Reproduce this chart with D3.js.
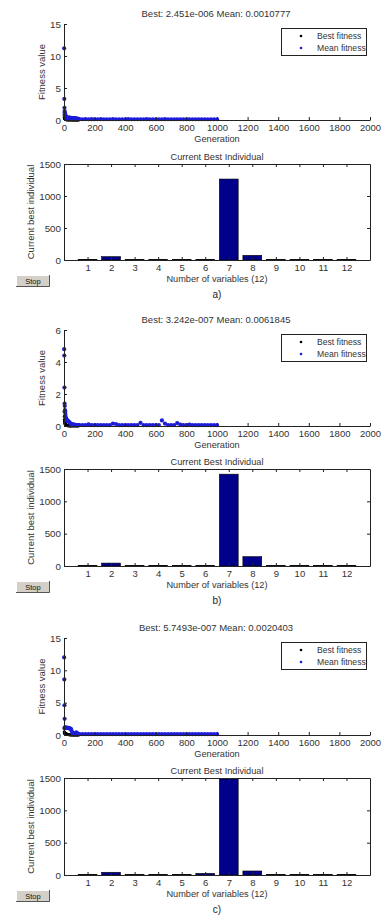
<!DOCTYPE html>
<html>
<head>
<meta charset="utf-8">
<script src="https://cdn.jsdelivr.net/npm/d3@7/dist/d3.min.js"></script>
<style>
  html, body { margin: 0; padding: 0; background: #fff; }
  svg { display: block; font-family: "Liberation Sans", Arial, sans-serif; }
</style>
</head>
<body>
<svg width="383" height="918"></svg>
<script>
// ---- data ----
const panelLabels = ['a)', 'b)', 'c)'];
const titles = [
  'Best: 2.451e-006 Mean: 0.0010777',
  'Best: 3.242e-007 Mean: 0.0061845',
  'Best: 5.7493e-007 Mean: 0.0020403'
];
const genTicks = [0, 200, 400, 600, 800, 1000, 1200, 1400, 1600, 1800, 2000];
const fitMax = [15, 6, 15];
const fitTicks = [[0, 5, 10, 15], [0, 2, 4, 6], [0, 5, 10, 15]];

const genHead = [1, 2, 3, 4, 5, 6, 7, 8, 9, 10, 12, 14, 16, 18, 20, 23, 26, 30, 34, 38, 42, 46, 50, 55, 60, 65, 70, 75, 80, 85, 90, 95];
const genTail = [100, 120, 140, 160, 180, 200, 220, 240, 260, 280, 300, 320, 340, 360, 380, 400, 420, 440, 460, 480, 500, 520, 540, 560, 580, 600, 620, 640, 660, 680, 700, 720, 740, 760, 780, 800, 820, 840, 860, 880, 900, 920, 940, 960, 980, 1000];

const meanHeadA = [11.2, 3.3, 1.9, 1.4, 1.2, 1.0, 0.9, 0.8, 0.7, 0.6, 0.5, 0.45, 0.4, 0.35, 0.3, 0.35, 0.3, 0.25, 0.4, 0.3, 0.25, 0.35, 0.3, 0.2, 0.3, 0.25, 0.2, 0.3, 0.2, 0.15, 0.2, 0.15];
const meanHeadB = [4.8, 4.4, 2.4, 1.4, 1.25, 1.0, 0.95, 0.9, 0.75, 0.6, 0.5, 0.45, 0.4, 0.38, 0.35, 0.3, 0.3, 0.28, 0.25, 0.2, 0.15, 0.12, 0.1, 0.1, 0.08, 0.08, 0.07, 0.07, 0.06, 0.06, 0.06, 0.06];
const meanHeadC = [12.0, 8.6, 4.6, 2.5, 1.2, 1.1, 1.1, 1.1, 1.1, 1.1, 1.1, 1.1, 1.1, 1.1, 1.1, 1.1, 1.1, 1.05, 1.05, 1.0, 1.0, 0.9, 0.6, 0.3, 0.25, 0.2, 0.3, 0.2, 0.4, 0.3, 0.2, 0.15];

const meanTailA = [0.15, 0.12, 0.14, 0.12, 0.13, 0.12, 0.12, 0.13, 0.12, 0.12, 0.12, 0.13, 0.12, 0.12, 0.12, 0.12, 0.13, 0.12, 0.12, 0.12, 0.12, 0.12, 0.13, 0.12, 0.12, 0.12, 0.12, 0.12, 0.13, 0.12, 0.12, 0.12, 0.12, 0.12, 0.12, 0.12, 0.12, 0.12, 0.12, 0.12, 0.12, 0.12, 0.12, 0.12, 0.12, 0.12];
const meanTailB = [0.06, 0.06, 0.06, 0.1, 0.06, 0.06, 0.06, 0.06, 0.06, 0.06, 0.06, 0.15, 0.12, 0.06, 0.06, 0.06, 0.06, 0.06, 0.06, 0.06, 0.2, 0.06, 0.06, 0.06, 0.06, 0.06, 0.06, 0.35, 0.15, 0.06, 0.06, 0.06, 0.18, 0.08, 0.06, 0.06, 0.08, 0.06, 0.06, 0.06, 0.06, 0.06, 0.06, 0.06, 0.06, 0.06];
const meanTailC = [0.14, 0.12, 0.12, 0.12, 0.12, 0.12, 0.12, 0.12, 0.12, 0.12, 0.12, 0.12, 0.12, 0.12, 0.12, 0.12, 0.12, 0.12, 0.12, 0.12, 0.12, 0.12, 0.12, 0.12, 0.12, 0.12, 0.12, 0.12, 0.12, 0.12, 0.12, 0.12, 0.12, 0.12, 0.12, 0.12, 0.12, 0.12, 0.12, 0.12, 0.12, 0.12, 0.12, 0.12, 0.12, 0.12];

const bestHeadA = [0.8, 0.5, 0.4, 0.3, 0.25, 0.2, 0.2, 0.15, 0.12, 0.1, 0.08, 0.06, 0.05, 0.05, 0.04, 0.04, 0.03, 0.03, 0.03, 0.02, 0.02, 0.02, 0.02, 0.01, 0.01, 0.01, 0.01, 0.01, 0.01, 0.01, 0.01, 0.01];
const bestHeadB = [0.9, 0.6, 0.4, 0.3, 0.25, 0.2, 0.15, 0.12, 0.1, 0.08, 0.06, 0.05, 0.04, 0.03, 0.03, 0.02, 0.02, 0.02, 0.01, 0.01, 0.01, 0.01, 0.01, 0.01, 0.01, 0.01, 0.01, 0.01, 0.01, 0.01, 0.01, 0.01];
const bestHeadC = [1.0, 0.5, 0.3, 0.3, 0.3, 0.3, 0.25, 0.25, 0.2, 0.2, 0.2, 0.15, 0.15, 0.12, 0.1, 0.1, 0.08, 0.06, 0.05, 0.04, 0.03, 0.02, 0.02, 0.01, 0.01, 0.01, 0.01, 0.01, 0.01, 0.01, 0.01, 0.01];

const variables = [1, 2, 3, 4, 5, 6, 7, 8, 9, 10, 11, 12];
const indTicks = [0, 500, 1000, 1500];
const bestIndA = [8, 52, 6, 7, 8, 9, 1265, 73, 7, 8, 8, 9];
const bestIndB = [8, 45, 7, 8, 7, 9, 1420, 144, 7, 8, 8, 9];
const bestIndC = [8, 42, 6, 7, 8, 25, 1485, 62, 7, 8, 7, 8];

const meanHeads = [meanHeadA, meanHeadB, meanHeadC];
const meanTails = [meanTailA, meanTailB, meanTailC];
const bestHeads = [bestHeadA, bestHeadB, bestHeadC];
const bestInds = [bestIndA, bestIndB, bestIndC];

// ---- layout (pixel positions of each panel's plots) ----
const fitTop = [24, 330, 638];
const fitBottom = [120, 426, 735];
const barTop = [164, 469, 778];
const barBottom = [260, 566, 875];
const left = 64, right = 370;

const ink = '#222';
const txt = '#333';
const fmt = d => String(d);
const svg = d3.select('svg');

function styleAxis(g, size) {
  g.attr('font-family', null).attr('font-size', size);
  g.selectAll('path.domain').attr('stroke', ink);
  g.selectAll('.tick line').attr('stroke', ink);
  g.selectAll('.tick text').attr('fill', txt);
}

for (let p = 0; p < 3; p++) {
  const g = svg.append('g');

  // ---------- fitness plot ----------
  const x = d3.scaleLinear().domain([0, 2000]).range([left, right]);
  const y = d3.scaleLinear().domain([0, fitMax[p]]).range([fitBottom[p], fitTop[p]]);

  g.append('text')
    .attr('x', (left + right) / 2 - 1).attr('y', fitTop[p] - 7)
    .attr('text-anchor', 'middle').attr('font-size', 9.5).attr('fill', txt)
    .text(titles[p]);

  const bestPts = genHead.map((gen, i) => ({ gen, v: bestHeads[p][i] }));
  const meanPts = genHead.map((gen, i) => ({ gen, v: meanHeads[p][i] }))
    .concat(genTail.map((gen, i) => ({ gen, v: meanTails[p][i] })));

  g.append('g').selectAll('circle')
    .data(bestPts).enter().append('circle')
    .attr('cx', d => x(d.gen)).attr('cy', d => y(d.v))
    .attr('r', 1.6).attr('fill', '#000');

  g.append('g').selectAll('circle')
    .data(meanPts).enter().append('circle')
    .attr('cx', d => x(d.gen)).attr('cy', d => y(d.v))
    .attr('r', 2.1).attr('fill', '#1c1cd8');

  const xAx = g.append('g')
    .attr('transform', `translate(0,${fitBottom[p]})`)
    .call(d3.axisBottom(x).tickValues(genTicks).tickFormat(fmt).tickSize(-3).tickSizeOuter(0).tickPadding(4));
  styleAxis(xAx, 9.5);

  const yAx = g.append('g')
    .attr('transform', `translate(${left},0)`)
    .call(d3.axisLeft(y).tickValues(fitTicks[p]).tickFormat(fmt).tickSize(-3).tickSizeOuter(0).tickPadding(3));
  styleAxis(yAx, 9.8);

  g.append('text')
    .attr('transform', `translate(45,${(fitTop[p] + fitBottom[p]) / 2}) rotate(-90)`)
    .attr('text-anchor', 'middle').attr('font-size', 9.5).attr('fill', txt)
    .text('Fitness value');

  g.append('text')
    .attr('x', (left + right) / 2).attr('y', fitBottom[p] + 21.5)
    .attr('text-anchor', 'middle').attr('font-size', 9.2).attr('fill', txt)
    .text('Generation');

  // legend
  const lg = g.append('g').attr('transform', `translate(281,${fitTop[p] + 4})`);
  lg.append('rect').attr('x', 0.5).attr('y', 0.5).attr('width', 85).attr('height', 27)
    .attr('fill', '#fff').attr('stroke', ink);
  lg.append('circle').attr('cx', 20).attr('cy', 8).attr('r', 1.3).attr('fill', '#000');
  lg.append('circle').attr('cx', 20).attr('cy', 20).attr('r', 1.3).attr('fill', '#1c1cd8');
  lg.append('text').attr('x', 36).attr('y', 11).attr('font-size', 8.6).attr('fill', txt).text('Best fitness');
  lg.append('text').attr('x', 36).attr('y', 23).attr('font-size', 8.6).attr('fill', txt).text('Mean fitness');

  // ---------- current best individual bar plot ----------
  const xb = d3.scaleLinear().domain([0, 13]).range([left, right]);
  const yb = d3.scaleLinear().domain([0, 1500]).range([barBottom[p], barTop[p]]);
  const bw = xb(0.8) - xb(0);

  g.append('text')
    .attr('x', (left + right) / 2).attr('y', barTop[p] - 4)
    .attr('text-anchor', 'middle').attr('font-size', 9.2).attr('fill', txt)
    .text('Current Best Individual');

  g.append('g').selectAll('rect')
    .data(variables).enter().append('rect')
    .attr('x', d => xb(d) - bw / 2)
    .attr('y', (d, i) => yb(bestInds[p][i]))
    .attr('width', bw)
    .attr('height', (d, i) => barBottom[p] - yb(bestInds[p][i]))
    .attr('fill', '#00008a').attr('stroke', '#000').attr('stroke-width', 0.6);

  const bx = g.append('g')
    .attr('transform', `translate(0,${barBottom[p]})`)
    .call(d3.axisBottom(xb).tickValues(variables).tickFormat(fmt).tickSize(-3).tickSizeOuter(0).tickPadding(4));
  styleAxis(bx, 9.5);
  const tx = g.append('g')
    .attr('transform', `translate(0,${barTop[p]})`)
    .call(d3.axisTop(xb).tickValues(variables).tickSize(-3).tickSizeOuter(0).tickFormat(''));
  styleAxis(tx, 9.5);
  const by = g.append('g')
    .attr('transform', `translate(${left},0)`)
    .call(d3.axisLeft(yb).tickValues(indTicks).tickFormat(fmt).tickSize(-3).tickSizeOuter(0).tickPadding(3));
  styleAxis(by, 9.8);
  const ry = g.append('g')
    .attr('transform', `translate(${right},0)`)
    .call(d3.axisRight(yb).tickValues(indTicks).tickSize(-3).tickSizeOuter(0).tickFormat(''));
  styleAxis(ry, 9.5);

  g.append('text')
    .attr('transform', `translate(34,${(barTop[p] + barBottom[p]) / 2}) rotate(-90)`)
    .attr('text-anchor', 'middle').attr('font-size', 9.5).attr('fill', txt)
    .text('Current best individual');

  g.append('text')
    .attr('x', (left + right) / 2).attr('y', barBottom[p] + 22)
    .attr('text-anchor', 'middle').attr('font-size', 9.2).attr('fill', txt)
    .text('Number of variables (12)');

  g.append('text')
    .attr('x', (left + right) / 2).attr('y', barBottom[p] + 37.5)
    .attr('text-anchor', 'middle').attr('font-size', 10).attr('fill', '#222')
    .text(panelLabels[p]);

  // Stop button
  const btn = g.append('g').attr('transform', `translate(16,${barBottom[p] + 15})`);
  btn.append('rect').attr('x', 0).attr('y', 0).attr('width', 34).attr('height', 12).attr('fill', '#d4d0c8');
  btn.append('path').attr('d', 'M0.5,11.5 V0.5 H33.5').attr('fill', 'none').attr('stroke', '#fff');
  btn.append('path').attr('d', 'M0,11.5 H33.5 V0').attr('fill', 'none').attr('stroke', '#555');
  btn.append('text').attr('x', 17).attr('y', 8.8).attr('text-anchor', 'middle')
    .attr('font-size', 7.5).attr('fill', '#111').text('Stop');
}
</script>
</body>
</html>
